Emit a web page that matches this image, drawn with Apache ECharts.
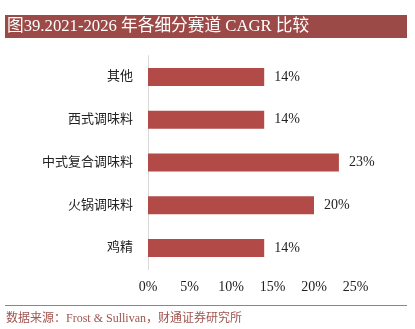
<!DOCTYPE html>
<html>
<head>
<meta charset="utf-8">
<script src="https://cdn.jsdelivr.net/npm/echarts@6/dist/echarts.min.js"></script>
<style>
  html, body { margin: 0; padding: 0; background: #fff; }
  #chart { width: 415px; height: 329px; }
</style>
</head>
<body>
<div id="chart"></div>
<script>
// Segment names (top to bottom) and their 2021-2026 CAGR, in percent
const categories = ['其他', '西式调味料', '中式复合调味料', '火锅调味料', '鸡精'];
const cagr = [14, 14, 23, 20, 14];
const tickValues = [0, 5, 10, 15, 20, 25];

const titleText = '图39.2021-2026 年各细分赛道 CAGR 比较';
const sourceText = '数据来源：Frost & Sullivan，财通证券研究所';

const FONT = '"Liberation Serif", "Noto Sans CJK SC", serif';

const chart = echarts.init(document.getElementById('chart'), null, { renderer: 'canvas' });

chart.setOption({
  animation: false,
  backgroundColor: '#ffffff',
  grid: { left: 148, right: 59.5, top: 55.6, bottom: 59.6, containLabel: false },
  xAxis: {
    type: 'value',
    min: tickValues[0],
    max: tickValues[tickValues.length - 1],
    interval: tickValues[1] - tickValues[0],
    axisLine: { show: false },
    axisTick: { show: false },
    splitLine: { show: false },
    axisLabel: {
      margin: 11,
      color: '#222',
      fontFamily: FONT,
      fontSize: 14,
      formatter: v => v + '%'
    }
  },
  yAxis: {
    type: 'category',
    data: categories,
    inverse: true,
    axisLine: { show: true, lineStyle: { color: '#d9d9d9', width: 1 } },
    axisTick: { show: false },
    axisLabel: {
      margin: 15,
      color: '#222',
      fontFamily: FONT,
      fontSize: 13
    }
  },
  series: [{
    type: 'bar',
    data: cagr,
    barWidth: '42%',
    itemStyle: { color: '#b24a48' },
    label: {
      show: true,
      position: 'right',
      distance: 10,
      color: '#222',
      fontFamily: FONT,
      fontSize: 14,
      formatter: p => p.value + '%'
    }
  }],
  graphic: [
    {
      type: 'rect',
      shape: { x: 5, y: 15, width: 402, height: 23 },
      style: { fill: '#9c4a47' },
      silent: true
    },
    {
      type: 'text',
      x: 7,
      y: 26.5,
      style: {
        text: titleText,
        fill: '#ffffff',
        font: '16.7px ' + FONT,
        verticalAlign: 'middle'
      }
    },
    {
      type: 'line',
      shape: { x1: 5, y1: 305.5, x2: 407, y2: 305.5 },
      style: { stroke: '#b87472', lineWidth: 1 }
    },
    {
      type: 'text',
      x: 6,
      y: 319,
      style: {
        text: sourceText,
        fill: '#a0554f',
        font: '12px ' + FONT,
        verticalAlign: 'middle'
      }
    }
  ]
});
</script>
</body>
</html>
